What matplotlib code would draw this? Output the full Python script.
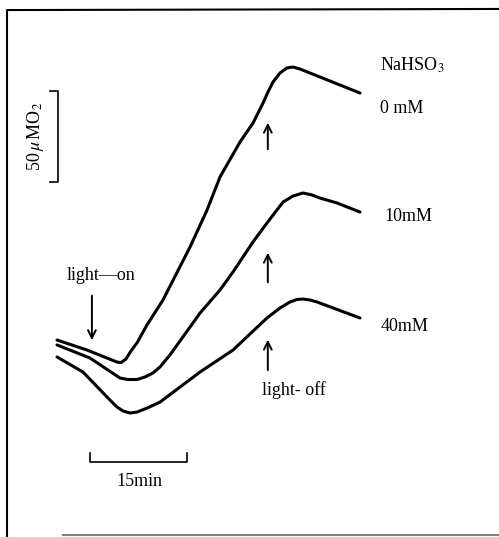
import matplotlib
matplotlib.use("Agg")
import matplotlib.pyplot as plt

plt.rcParams["font.family"] = ["Liberation Serif", "DejaVu Serif"]
plt.rcParams["mathtext.fontset"] = "stix"

# O2 evolution traces (time in min, O2 in uM, relative)
t_0mM = [0, 4.64, 9.28, 9.90, 10.67, 11.44, 12.37, 13.92, 16.39, 20.57, 23.20,
         25.21, 28.30, 30.31, 31.86, 32.63, 33.41, 34.48, 35.57, 36.49, 37.58,
         46.86]
o2_0mM = [40.1, 34.6, 28.0, 27.7, 29.7, 34.1, 38.5, 48.4, 62.1, 91.2, 111.5,
          129.7, 148.9, 159.3, 170.3, 176.4, 181.9, 186.8, 189.6, 190.1, 189.0,
          175.8]

t_10mM = [0, 5.10, 9.74, 10.98, 12.37, 13.61, 14.85, 15.93, 17.47, 21.03, 22.11,
          25.21, 27.22, 30.31, 32.47, 34.95, 36.49, 38.04, 39.43, 40.67, 43.30,
          46.86]
o2_10mM = [37.4, 30.2, 19.2, 18.4, 18.4, 19.8, 22.0, 25.3, 31.9, 49.5, 54.9,
           67.6, 77.5, 94.0, 104.4, 115.9, 119.2, 120.9, 119.8, 118.1, 115.4,
           110.4]

t_40mM = [0, 4.02, 8.20, 9.28, 10.21, 11.29, 12.37, 13.92, 15.93, 22.11, 27.22,
          32.47, 34.48, 36.03, 37.11, 38.04, 39.12, 40.21, 46.86]
o2_40mM = [30.8, 22.5, 7.1, 3.3, 1.1, 0.0, 0.5, 2.7, 6.0, 22.5, 34.6,
           52.2, 57.7, 61.0, 62.4, 62.6, 62.1, 61.0, 52.2]

labels = ["0 mM", "10mM", "40mM"]
t_light_on = 5.4
t_light_off = 32.6

px_min = 97 / 15.0
px_um = 91 / 50.0

fig = plt.figure(figsize=(4.99, 5.37), dpi=100)
ax = fig.add_axes([0, 0, 1, 1])
ax.set_xlim(-57 / px_min, (499 - 57) / px_min)
ax.set_ylim((413 - 537) / px_um, 413 / px_um)
ax.axis("off")

for t, o2 in [(t_0mM, o2_0mM), (t_10mM, o2_10mM), (t_40mM, o2_40mM)]:
    ax.plot(t, o2, color="black", lw=2.2, solid_joinstyle="round",
            solid_capstyle="round")

fs = 13
ax.text(50.0, 191, "NaHSO$_3$", fontsize=fs, va="center", ha="left")
ax.text(50.0, 167.5, labels[0], fontsize=fs, va="center", ha="left")
ax.text(50.7, 107.7, labels[1], fontsize=fs, va="center", ha="left")
ax.text(50.0, 47.3, labels[2], fontsize=fs, va="center", ha="left")

# light-on arrow
ax.annotate("", xy=(t_light_on, 38.5), xytext=(t_light_on, 66),
            arrowprops=dict(arrowstyle="->", lw=1.4, color="black",
                            mutation_scale=14))
ax.text(6.8, 75.8, "light\u2014on", fontsize=fs, ha="center", va="center")

# light-off arrows
for y0, y1 in [(143.4, 161), (70.3, 89.6), (22.0, 41.8)]:
    ax.annotate("", xy=(t_light_off, y1), xytext=(t_light_off, y0),
                arrowprops=dict(arrowstyle="->", lw=1.4, color="black",
                                mutation_scale=14))
ax.text(31.7, 12.6, "light- off", fontsize=fs, ha="left", va="center")

# time scale bar
ax.plot([5.1, 5.1, 20.1, 20.1], [-22.0, -26.9, -26.9, -22.0], color="black", lw=1.2)
ax.text(12.8, -37.9, "15min", fontsize=fs, ha="center", va="center")

# O2 scale bar
ax.plot([-1.1, 0.15, 0.15, -1.1], [176.9, 176.9, 126.9, 126.9], color="black", lw=1.2)
ax.text(-3.4, 152, "50$\\,\\mu\\,$MO$_2$", fontsize=fs, ha="center", va="center",
        rotation=90)

# frame
ax.plot([-7.73, -7.73, 68.3], [-68.1, 221.4, 222.0], color="black", lw=1.5,
        clip_on=False)
ax.plot([0.9, 68.3], [-67.0, -67.0], color="gray", lw=1.5, clip_on=False)

fig.savefig("out.png", dpi=100)
